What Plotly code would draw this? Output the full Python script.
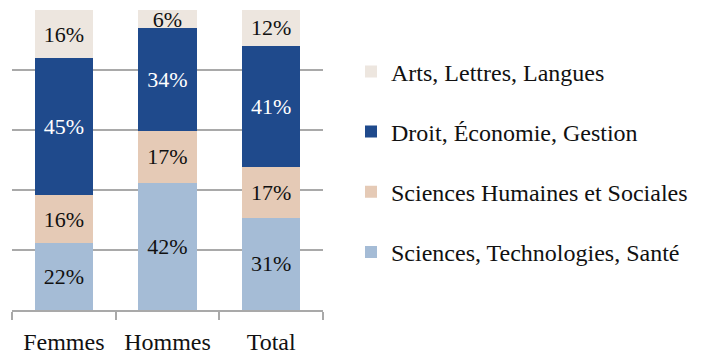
import plotly.graph_objects as go

# Répartition des étudiants par grand domaine (%)
groupes = ["Femmes", "Hommes", "Total"]
domaines = [
    "Sciences, Technologies, Santé",
    "Sciences Humaines et Sociales",
    "Droit, Économie, Gestion",
    "Arts, Lettres, Langues",
]
sciences_tech_sante = [22, 42, 31]
sciences_humaines = [16, 17, 17]
droit_eco_gestion = [45, 34, 41]
arts_lettres_langues = [16, 6, 12]

series = [sciences_tech_sante, sciences_humaines, droit_eco_gestion, arts_lettres_langues]
couleurs = ["#a5bcd6", "#e5cab6", "#1f4a8c", "#ede6df"]
couleurs_texte = ["#111111", "#111111", "#ffffff", "#111111"]
rangs_legende = [4, 3, 2, 1]

FONT = "Liberation Serif"
GRIS = "#a9a9a9"

fig = go.Figure()
for nom, vals, coul, ctexte, rang in zip(domaines, series, couleurs, couleurs_texte, rangs_legende):
    fig.add_trace(go.Bar(
        x=groupes,
        y=vals,
        name=nom,
        legendgroup=nom,
        legendrank=rang,
        marker=dict(color=coul, line=dict(width=0)),
        text=[f"{v}%" for v in vals],
        textposition="inside",
        insidetextanchor="middle",
        textangle=0,
        constraintext="none",
        textfont=dict(family=FONT, size=22, color=ctexte),
        width=0.56,
    ))

fig.update_layout(
    width=706,
    height=356,
    margin=dict(l=12, r=383, t=10, b=46, autoexpand=False),
    barmode="stack",
    barnorm="percent",
    plot_bgcolor="white",
    paper_bgcolor="white",
    font=dict(family=FONT, size=22, color="#111111"),
    showlegend=True,
    legend=dict(
        traceorder="grouped",
        tracegroupgap=26,
        x=(351 - 12) / (706 - 12 - 383),
        xanchor="left",
        y=0.494,
        yanchor="middle",
        font=dict(family=FONT, size=24, color="#111111"),
        bgcolor="rgba(0,0,0,0)",
        itemclick=False,
    ),
    xaxis=dict(
        range=[-0.5, len(groupes) - 0.5],
        showline=True,
        linecolor=GRIS,
        linewidth=1.5,
        ticks="outside",
        tickson="boundaries",
        ticklen=8,
        tickwidth=1.5,
        tickcolor=GRIS,
        ticklabelstandoff=9,
        tickfont=dict(family=FONT, size=24, color="#111111"),
        showgrid=False,
    ),
    yaxis=dict(
        range=[0, 100],
        tickvals=[0, 20, 40, 60, 80, 100],
        showticklabels=False,
        showgrid=True,
        gridcolor=GRIS,
        gridwidth=1.5,
        zeroline=False,
        showline=False,
        ticks="",
    ),
)

fig.write_html("out.html")
